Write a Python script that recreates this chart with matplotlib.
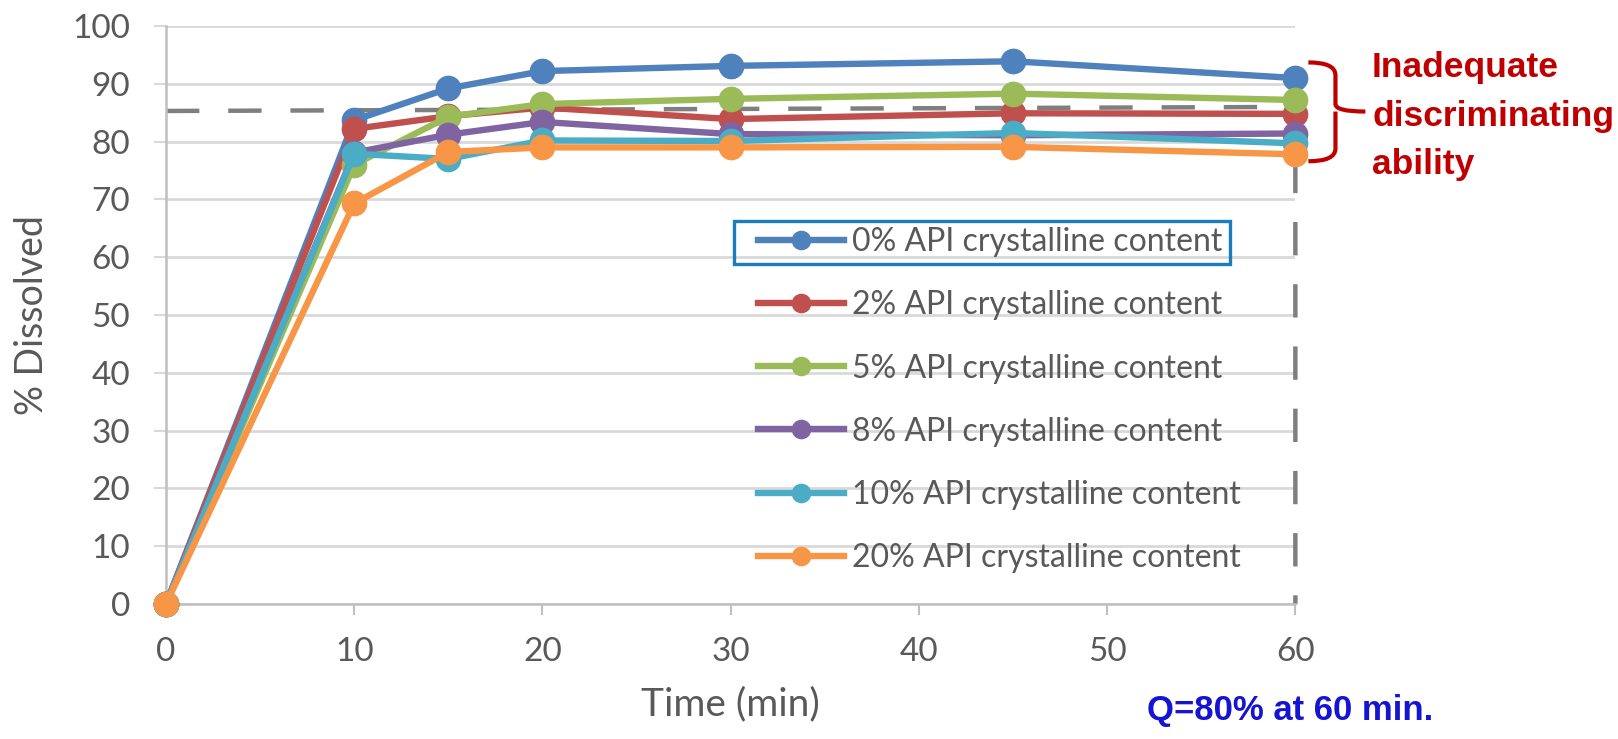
import matplotlib
matplotlib.use("Agg")
import matplotlib.pyplot as plt
from matplotlib.path import Path
from matplotlib.patches import PathPatch, Rectangle

# data
time_min = [0, 10, 15, 20, 30, 45, 60]
labels = ["0% API crystalline content", "2% API crystalline content",
          "5% API crystalline content", "8% API crystalline content",
          "10% API crystalline content", "20% API crystalline content"]
pct_0 = [0, 83.7, 89.2, 92.2, 93.1, 93.9, 91.0]
pct_2 = [0, 82.2, 84.4, 85.9, 83.9, 84.9, 84.8]
pct_5 = [0, 76.0, 84.3, 86.5, 87.4, 88.3, 87.2]
pct_8 = [0, 78.1, 81.2, 83.4, 81.3, 81.1, 81.4]
pct_10 = [0, 77.9, 77.0, 80.2, 80.1, 81.5, 79.7]
pct_20 = [0, 69.3, 78.2, 79.0, 79.0, 79.1, 77.8]
series = [pct_0, pct_2, pct_5, pct_8, pct_10, pct_20]
colors = ["#4F81BD", "#C0504D", "#9BBB59", "#8064A2", "#4BACC6", "#F79646"]

# Q limit guide (dashed L-shape)
q_x = [0, 60, 60]
q_y = [85.3, 86.0, 0]

gray = "#595959"
plt.rcParams['font.family'] = ['Lato', 'DejaVu Sans']
bold_font = ['Liberation Sans Narrow', 'Liberation Sans']

fig = plt.figure(figsize=(16.18, 7.39), dpi=100)
ax = fig.add_axes([0.1026, 0.1827, 0.698, 0.7821])

ax.set_xlim(0, 60)
ax.set_ylim(0, 100)
ax.set_xticks(range(0, 61, 10))
ax.set_yticks(range(0, 101, 10))
ax.grid(axis='y', color="#d9d9d9", linewidth=2)
ax.set_axisbelow(True)
for s in ['top', 'right']:
    ax.spines[s].set_visible(False)
for s in ['left', 'bottom']:
    ax.spines[s].set_color("#bfbfbf")
    ax.spines[s].set_linewidth(1.8)
ax.tick_params(axis='x', length=8, width=1.5, color="#bfbfbf", pad=16,
               labelsize=24, labelcolor=gray)
ax.tick_params(axis='y', length=9, width=1.5, color="#d9d9d9", pad=17,
               labelsize=24, labelcolor=gray)

ax.plot(q_x, q_y, color="#7f7f7f", linewidth=3.2, linestyle=(0, (7.5, 6.5)),
        zorder=2.5, clip_on=False)

lines = []
for vals, col, lab in zip(series, colors, labels):
    ln, = ax.plot(time_min, vals, color=col, linewidth=4.6, marker='o',
                  markersize=17.5, label=lab, clip_on=False, zorder=3)
    lines.append(ln)

ax.set_xlabel("Time (min)", fontsize=28, color=gray, labelpad=14)
ax.set_ylabel("% Dissolved", fontsize=27, color=gray, labelpad=16)

leg = ax.legend(handles=lines, loc='upper left', bbox_to_anchor=(0.524, 0.6515),
                frameon=False, fontsize=23, labelspacing=1.035, handlelength=2.7,
                handletextpad=0.25, borderpad=0, borderaxespad=0, markerscale=0.75)
for t in leg.get_texts():
    t.set_color(gray)

# highlight box around first legend entry
fig.canvas.draw()
r = fig.canvas.get_renderer()
tb = leg.get_texts()[0].get_window_extent(r)
hb = leg.legend_handles[0].get_window_extent(r)
x0 = hb.x0 - 15
x1 = tb.x1 + 8
yc = (tb.y0 + tb.y1) / 2
W, H = fig.bbox.width, fig.bbox.height
fig.patches.append(Rectangle((x0 / W, (yc - 21.5) / H), (x1 - x0) / W, 43 / H,
                             transform=fig.transFigure, fill=False,
                             edgecolor="#1b7dbd", linewidth=2.4))

# curly brace to the right of the 60 min points
hx, sx, tx = 60.69, 62.13, 63.72
top, mid, bot = 93.7, 85.2, 76.6
verts = [(hx, top), (sx, top), (sx, top - 2.2),
         (sx, mid + 1.3), (sx, mid), (tx, mid),
         (sx, mid), (sx, mid - 1.3),
         (sx, bot + 2.2), (sx, bot), (hx, bot)]
codes = [Path.MOVETO, Path.CURVE3, Path.CURVE3,
         Path.LINETO, Path.CURVE3, Path.CURVE3,
         Path.MOVETO, Path.LINETO,
         Path.LINETO, Path.CURVE3, Path.CURVE3]
ax.add_patch(PathPatch(Path(verts, codes), fill=False, edgecolor="#C00000",
                       linewidth=3, clip_on=False))

fig.text(0.848, 0.843, "Inadequate\ndiscriminating\nability", color="#C00000",
         fontsize=25.5, fontweight='bold', family=bold_font,
         ha='left', va='center', linespacing=1.58)
fig.text(0.709, 0.039, "Q=80% at 60 min.", color="#1414D2", fontsize=25,
         fontweight='bold', family=bold_font, ha='left', va='center')

fig.savefig("out.png", dpi=100)
